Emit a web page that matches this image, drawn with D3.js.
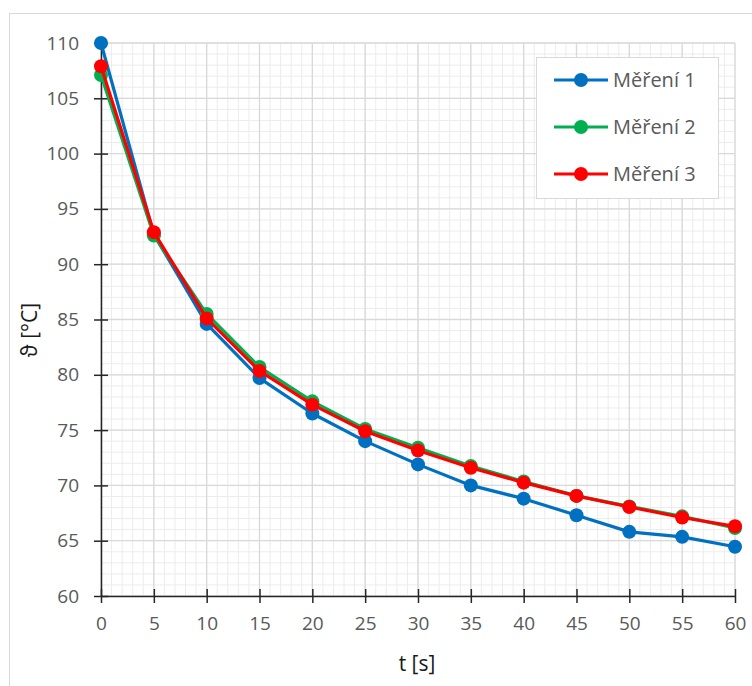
<!DOCTYPE html>
<html><head><meta charset="utf-8">
<script src="https://cdn.jsdelivr.net/npm/d3@7"></script>
<style>body{margin:0;background:#fff}svg{display:block}</style>
</head><body>
<script>
const times = [0,5,10,15,20,25,30,35,40,45,50,55,60];
const mereni1 = [110,92.7,84.6,79.7,76.5,74.0,71.9,70.0,68.8,67.3,65.8,65.35,64.45];
const mereni2 = [107.1,92.6,85.5,80.7,77.6,75.1,73.4,71.75,70.35,69.05,68.1,67.2,66.15];
const mereni3 = [107.9,92.9,85.1,80.35,77.3,74.9,73.15,71.6,70.25,69.05,68.05,67.1,66.3];
const seriesNames = ["Měření 1","Měření 2","Měření 3"];
const seriesColors = ["#0070c0","#00b050","#ff0000"];
const xTicks = d3.range(0,61,5);
const yTicks = d3.range(60,111,5);

const W=752,H=686;
const svg=d3.select("body").append("svg").attr("width",W).attr("height",H);
const font="'Open Sans', 'Liberation Sans', Arial, sans-serif";
svg.append("rect").attr("x",9.5).attr("y",13.5).attr("width",W).attr("height",H).attr("fill","#fff").attr("stroke","#d9d9d9");

const x=d3.scaleLinear().domain([0,60]).range([101,735]);
const y=d3.scaleLinear().domain([60,110]).range([596,43]);

const g=svg.append("g");
// minor grid
g.selectAll(".mx").data(d3.range(0,61,1)).join("line").attr("x1",d=>x(d)).attr("x2",d=>x(d)).attr("y1",y(60)).attr("y2",y(110)).attr("stroke","#ececec").attr("stroke-width",1);
g.selectAll(".my").data(d3.range(60,111,1)).join("line").attr("y1",d=>y(d)).attr("y2",d=>y(d)).attr("x1",x(0)).attr("x2",x(60)).attr("stroke","#ececec").attr("stroke-width",1);
// major grid
g.selectAll(".Mx").data(xTicks).join("line").attr("x1",d=>x(d)).attr("x2",d=>x(d)).attr("y1",y(60)).attr("y2",y(110)).attr("stroke","#d9d9d9").attr("stroke-width",1.3);
g.selectAll(".My").data(yTicks).join("line").attr("y1",d=>y(d)).attr("y2",d=>y(d)).attr("x1",x(0)).attr("x2",x(60)).attr("stroke","#d9d9d9").attr("stroke-width",1.3);

// axes
const xAxis=svg.append("g").attr("transform",`translate(0,${y(60)})`)
  .call(d3.axisBottom(x).tickValues(xTicks).tickSizeInner(7).tickSizeOuter(0).tickPadding(14));
const yAxis=svg.append("g").attr("transform",`translate(${x(0)},0)`)
  .call(d3.axisLeft(y).tickValues(yTicks).tickSizeInner(7).tickSizeOuter(0).tickPadding(15));
[xAxis,yAxis].forEach(a=>{
  a.select(".domain").attr("stroke","#262626").attr("stroke-width",1.5);
  a.selectAll(".tick line").attr("stroke","#262626").attr("stroke-width",1.5);
  a.selectAll(".tick text").attr("fill","#595959").style("font-family",font).style("font-size","19px");
});
xAxis.selectAll(".tick line").attr("y1",-7);
yAxis.selectAll(".tick line").attr("x1",7);

// series
const allSeries=[mereni1,mereni2,mereni3];
const line=d3.line().x((d,i)=>x(times[i])).y(d=>y(d));
[0,1,2].forEach(k=>{
  const s=allSeries[k];
  svg.append("path").datum(s).attr("d",line).attr("fill","none").attr("stroke",seriesColors[k]).attr("stroke-width",3.2).attr("stroke-linejoin","round");
  svg.append("g").selectAll("circle").data(s).join("circle").attr("cx",(d,i)=>x(times[i])).attr("cy",d=>y(d)).attr("r",7).attr("fill",seriesColors[k]);
});

// axis titles
svg.append("text").attr("transform","translate(30,330) rotate(-90)").attr("text-anchor","middle").attr("dy","0.35em")
  .attr("fill","#1a1a1a").style("font-family",font).style("font-size","21px").text("ϑ [°C]");
svg.append("text").attr("x",417).attr("y",671).attr("text-anchor","middle")
  .attr("fill","#1a1a1a").style("font-family",font).style("font-size","21px").text("t [s]");

// legend
const lg=svg.append("g");
lg.append("rect").attr("x",536.5).attr("y",57.5).attr("width",182).attr("height",141).attr("fill","#fff").attr("stroke","#d9d9d9");
seriesNames.forEach((n,k)=>{
  const yy=80+k*47;
  lg.append("line").attr("x1",554).attr("x2",608).attr("y1",yy).attr("y2",yy).attr("stroke",seriesColors[k]).attr("stroke-width",3.2);
  lg.append("circle").attr("cx",581).attr("cy",yy).attr("r",7).attr("fill",seriesColors[k]);
  lg.append("text").attr("x",613).attr("y",yy).attr("dy","0.35em").attr("fill","#595959").style("font-family",font).style("font-size","20px").text(n);
});
</script>
</body></html>
